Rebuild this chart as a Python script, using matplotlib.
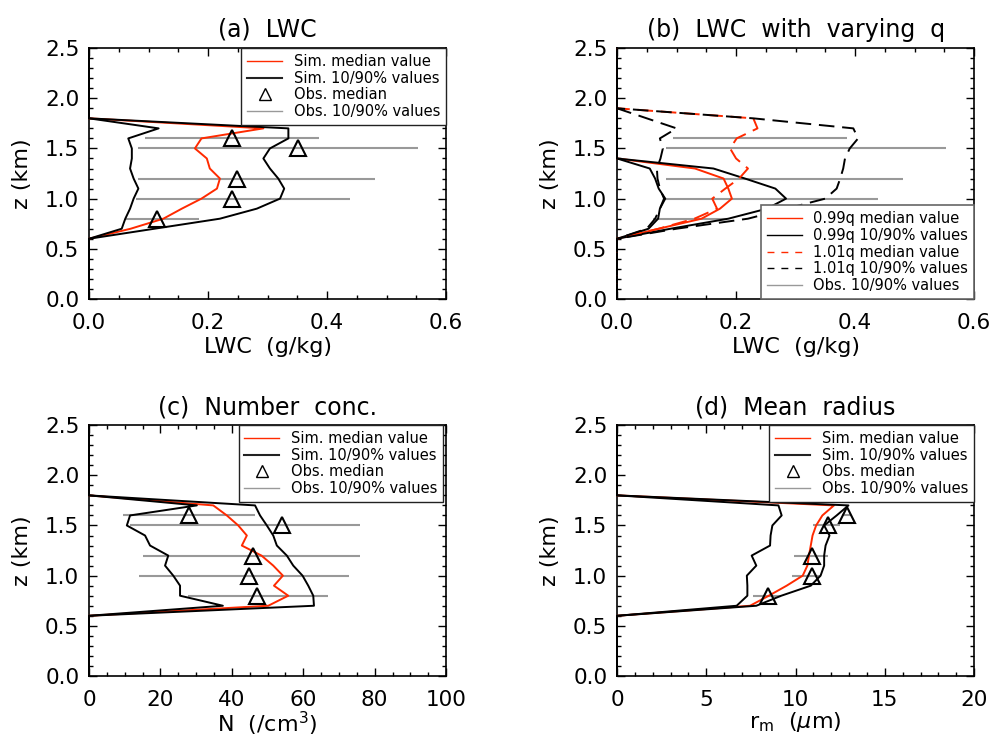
import numpy as np
import matplotlib
matplotlib.use('Agg')
import matplotlib.pyplot as plt
from matplotlib.lines import Line2D
from matplotlib.ticker import MultipleLocator, FormatStrFormatter

plt.rcParams['font.family'] = ['DejaVu Sans']

# height levels (km)
z = [0.0, 0.1, 0.2, 0.3, 0.4, 0.5, 0.6, 0.7, 0.8, 0.9, 1.0, 1.1, 1.2,
     1.3, 1.4, 1.5, 1.6, 1.7, 1.8, 1.9, 2.0, 2.1, 2.2, 2.3, 2.4, 2.5]
z_obs = [0.8, 1.0, 1.2, 1.5, 1.6]

# (a) LWC
a_med = [0, 0, 0, 0, 0, 0, 0, 0.07, 0.125, 0.156, 0.189, 0.215, 0.22,
         0.203, 0.198, 0.178, 0.189, 0.293, 0, 0, 0, 0, 0, 0, 0, 0]
a_p10 = [0, 0, 0, 0, 0, 0, 0, 0.055, 0.061, 0.069, 0.075, 0.083, 0.075,
         0.069, 0.072, 0.072, 0.066, 0.117, 0, 0, 0, 0, 0, 0, 0, 0]
a_p90 = [0, 0, 0, 0, 0, 0, 0, 0.11, 0.22, 0.282, 0.321, 0.328, 0.318,
         0.304, 0.293, 0.304, 0.335, 0.335, 0, 0, 0, 0, 0, 0, 0, 0]
a_obs_med = [0.115, 0.241, 0.248, 0.351, 0.241]
a_obs_p10 = [0.061, 0.079, 0.083, 0.083, 0.094]
a_obs_p90 = [0.185, 0.439, 0.481, 0.552, 0.387]

# (b) LWC with varying q
b_lo_med = [0, 0, 0, 0, 0, 0, 0, 0.07, 0.142, 0.173, 0.193, 0.187, 0.179,
            0.131, 0, 0, 0, 0, 0, 0, 0, 0, 0, 0, 0, 0]
b_lo_p10 = [0, 0, 0, 0, 0, 0, 0, 0.053, 0.069, 0.072, 0.081, 0.07, 0.064,
            0.055, 0, 0, 0, 0, 0, 0, 0, 0, 0, 0, 0, 0]
b_lo_p90 = [0, 0, 0, 0, 0, 0, 0, 0.09, 0.187, 0.252, 0.284, 0.266, 0.215,
            0.162, 0, 0, 0, 0, 0, 0, 0, 0, 0, 0, 0, 0]
b_hi_med = [0, 0, 0, 0, 0, 0, 0, 0.07, 0.13, 0.168, 0.16, 0.182, 0.205,
            0.22, 0.2, 0.19, 0.201, 0.236, 0.229, 0, 0, 0, 0, 0, 0, 0]
b_hi_p10 = [0, 0, 0, 0, 0, 0, 0, 0.05, 0.064, 0.072, 0.079, 0.072, 0.068,
            0.067, 0.073, 0.077, 0.072, 0.10, 0.05, 0, 0, 0, 0, 0, 0, 0]
b_hi_p90 = [0, 0, 0, 0, 0, 0, 0, 0.10, 0.22, 0.285, 0.35, 0.369, 0.375,
            0.38, 0.383, 0.391, 0.405, 0.397, 0.229, 0, 0, 0, 0, 0, 0, 0]

# (c) number concentration
c_med = [0, 0, 0, 0, 0, 0, 0, 50.2, 55.8, 51.8, 54.3, 51.6, 48.3,
         42.8, 44.2, 41.8, 38.6, 34.8, 0, 0, 0, 0, 0, 0, 0, 0]
c_p10 = [0, 0, 0, 0, 0, 0, 0, 37.5, 25.5, 25.5, 23.6, 21.3, 22.2,
         17.1, 15.7, 10.6, 11.5, 30.2, 0, 0, 0, 0, 0, 0, 0, 0]
c_p90 = [0, 0, 0, 0, 0, 0, 0, 63.0, 62.8, 61.4, 59.8, 57.2, 55.4,
         52.6, 51.6, 49.8, 47.9, 46.5, 0, 0, 0, 0, 0, 0, 0, 0]
c_obs_med = [47.0, 44.9, 46.0, 54.0, 28.0]
c_obs_p10 = [27.8, 14.1, 15.2, 11.5, 9.6]
c_obs_p90 = [66.9, 72.9, 75.9, 75.9, 46.5]

# (d) mean radius
d_med = [0, 0, 0, 0, 0, 0, 0, 7.45, 8.5, 9.5, 10.4, 10.66, 10.75,
         10.85, 10.95, 11.15, 11.5, 12.15, 0, 0, 0, 0, 0, 0, 0, 0]
d_p10 = [0, 0, 0, 0, 0, 0, 0, 6.7, 7.3, 7.3, 7.27, 7.8, 7.54,
         8.57, 8.6, 8.7, 9.22, 9.04, 0, 0, 0, 0, 0, 0, 0, 0]
d_p90 = [0, 0, 0, 0, 0, 0, 0, 7.8, 9.2, 10.85, 11.4, 11.6, 11.6,
         11.68, 11.9, 11.6, 12.3, 12.96, 0, 0, 0, 0, 0, 0, 0, 0]
d_obs_med = [8.45, 10.94, 10.94, 11.84, 12.87]
d_obs_p10 = [7.64, 9.8, 9.9, 11.0, 12.6]
d_obs_p90 = [9.2, 11.4, 11.84, 12.49, 13.1]

RED = '#ff2a00'
GRAY = '#999999'
DASH = (0, (8, 4))

fig = plt.figure(figsize=(9.92, 7.4), dpi=100)


def setup(ax, title, xlabel, xmax, xmaj, xmin, xfmt, lpad=3):
    ax.set_xlim(0, xmax)
    ax.set_ylim(0, 2.5)
    ax.xaxis.set_major_locator(MultipleLocator(xmaj))
    ax.xaxis.set_minor_locator(MultipleLocator(xmin))
    ax.yaxis.set_major_locator(MultipleLocator(0.5))
    ax.yaxis.set_minor_locator(MultipleLocator(0.1))
    ax.xaxis.set_major_formatter(FormatStrFormatter(xfmt))
    ax.yaxis.set_major_formatter(FormatStrFormatter('%.1f'))
    ax.tick_params(which='both', direction='in', top=True, right=True,
                   labelsize=15.5, width=1)
    ax.tick_params(which='major', length=6)
    ax.tick_params(which='minor', length=3)
    ax.tick_params(axis='x', pad=10)
    ax.tick_params(axis='y', pad=7)
    for s in ax.spines.values():
        s.set_linewidth(1.2)
    ax.set_title(title, fontsize=17, pad=8)
    ax.set_xlabel(xlabel, fontsize=16, labelpad=lpad)
    ax.set_ylabel('z (km)', fontsize=16, labelpad=9)


def obs(ax, med, p10, p90):
    ax.hlines(z_obs, p10, p90, color=GRAY, lw=1.5, zorder=2)
    ax.plot(med, z_obs, '^', ms=12, mfc='none', mec='black', mew=1.5,
            zorder=4, clip_on=False)


def sim_legend(ax, anchor):
    handles = [Line2D([], [], color=RED, lw=1),
               Line2D([], [], color='#222222', lw=1.5),
               Line2D([], [], ls='none', marker='^', ms=8, mfc='none',
                      mec='black', mew=1),
               Line2D([], [], color=GRAY, lw=1)]
    labels = ['Sim. median value', 'Sim. 10/90% values', 'Obs. median',
              'Obs. 10/90% values']
    leg = ax.legend(handles, labels, loc='upper right', bbox_to_anchor=anchor,
                    borderaxespad=0, fontsize=10.5, handlelength=2.4,
                    handletextpad=0.8, labelspacing=0.12, borderpad=0.4,
                    fancybox=False, framealpha=1, edgecolor='#222222')
    leg.get_frame().set_linewidth(1)


def profiles(ax, med, p10, p90, ls='-'):
    ax.plot(med, z, color=RED, lw=1.4, ls=ls, zorder=3, clip_on=False)
    ax.plot(p10, z, color='black', lw=1.4, ls=ls, zorder=3, clip_on=False)
    ax.plot(p90, z, color='black', lw=1.4, ls=ls, zorder=3, clip_on=False)


# (a)
ax = fig.add_axes([0.0897, 0.596, 0.360, 0.339])
obs(ax, a_obs_med, a_obs_p10, a_obs_p90)
profiles(ax, a_med, a_p10, a_p90)
setup(ax, '(a)  LWC', 'LWC  (g/kg)', 0.6, 0.2, 0.05, '%.1f')
sim_legend(ax, (1, 1))

# (b)
ax = fig.add_axes([0.622, 0.596, 0.360, 0.339])
ax.hlines(z_obs, a_obs_p10, a_obs_p90, color=GRAY, lw=1.5, zorder=2)
profiles(ax, b_lo_med, b_lo_p10, b_lo_p90)
profiles(ax, b_hi_med, b_hi_p10, b_hi_p90, ls=DASH)
setup(ax, '(b)  LWC  with  varying  q', 'LWC  (g/kg)', 0.6, 0.2, 0.05, '%.1f')
handles = [Line2D([], [], color=RED, lw=1),
           Line2D([], [], color='black', lw=1),
           Line2D([], [], color=RED, lw=1, ls=(0, (5, 5))),
           Line2D([], [], color='black', lw=1, ls=(0, (5, 5))),
           Line2D([], [], color=GRAY, lw=1)]
labels = ['0.99q median value', '0.99q 10/90% values', '1.01q median value',
          '1.01q 10/90% values', 'Obs. 10/90% values']
leg = ax.legend(handles, labels, loc='lower right', bbox_to_anchor=(1, 0),
                borderaxespad=0, fontsize=10.5, handlelength=2.4,
                handletextpad=0.8, labelspacing=0.12, borderpad=0.4,
                fancybox=False, framealpha=1, edgecolor='#666666')
leg.get_frame().set_linewidth(1.2)

# (c)
ax = fig.add_axes([0.0897, 0.0865, 0.360, 0.339])
obs(ax, c_obs_med, c_obs_p10, c_obs_p90)
profiles(ax, c_med, c_p10, c_p90)
setup(ax, '(c)  Number  conc.', 'N  (/cm$^3$)', 100, 20, 5, '%d', lpad=0)
sim_legend(ax, (0.992, 1))

# (d)
ax = fig.add_axes([0.622, 0.0865, 0.360, 0.339])
obs(ax, d_obs_med, d_obs_p10, d_obs_p90)
profiles(ax, d_med, d_p10, d_p90)
setup(ax, '(d)  Mean  radius', 'r$_\\mathrm{m}$  ($\\mu$m)', 20, 5, 1, '%d',
      lpad=0)
sim_legend(ax, (1, 1))

fig.savefig('out.png', dpi=100)
